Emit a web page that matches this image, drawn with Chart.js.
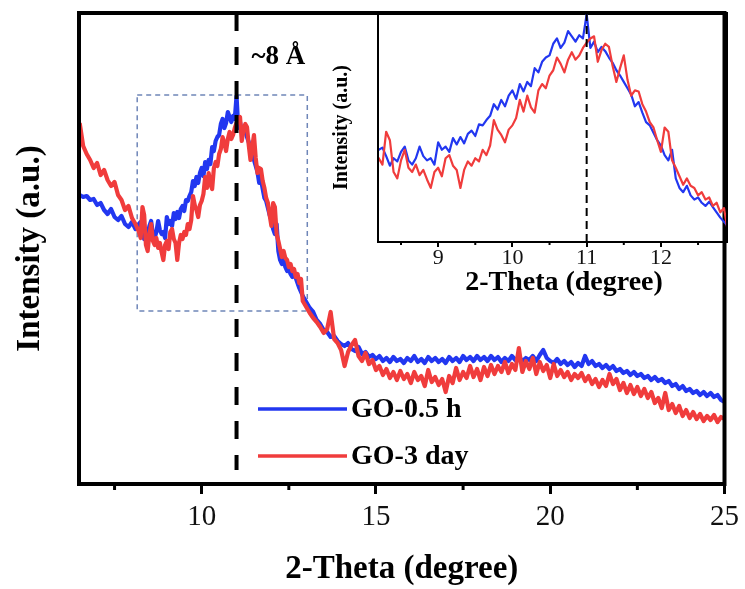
<!DOCTYPE html>
<html>
<head>
<meta charset="utf-8">
<title>XRD patterns of GO</title>
<script src="https://cdn.jsdelivr.net/npm/chart.js@4.4.1/dist/chart.umd.min.js"></script>
<style>
  html, body { margin: 0; padding: 0; background: #fff; }
  #wrap { position: relative; width: 745px; height: 589px; }
  #main { position: absolute; left: 0; top: 0; }
  #inset { position: absolute; left: 320px; top: 0; }
</style>
</head>
<body>
<div id="wrap">
  <canvas id="main" width="745" height="589"></canvas>
  <canvas id="inset" width="425" height="310"></canvas>
</div>
<script>
// ---- series ----
const seriesNames = ['GO-0.5 h', 'GO-3 day'];
const seriesColors = ['#2237f0', '#f03c3c'];
const seriesOrder = [1, 0];            // red trace drawn over the blue one

// 2θ sampling grids: 0.1° steps outside the (001) peak window, 0.05° inside it
function steps(from, to, d) {
  const out = [];
  const n = Math.round((to - from) / d);
  for (let i = 0; i <= n; i++) out.push(+(from + i * d).toFixed(2));
  return out;
}
const thetaLow = steps(6.5, 8.1, 0.1);
const thetaPeak = steps(8.2, 12.9, 0.05);
const thetaHigh = steps(13.0, 25.0, 0.1);

// intensities (a.u.)
const blueLow = [289, 287, 288, 284, 285, 279, 281, 274, 270, 275, 267, 264, 268, 260, 257, 262, 255];
const redLow  = [361, 338, 330, 324, 316, 321, 309, 314, 304, 298, 302, 289, 284, 274, 278, 266, 260];

const bluePeak = [
  260, 262, 254, 245, 252, 249, 258, 263, 250, 246,
  252, 263, 254, 250, 252, 246, 267, 260, 263, 258,
  271, 265, 272, 266, 275, 278, 273, 284, 283, 288,
  292, 303, 298, 307, 301, 311, 316, 308, 322, 315,
  324, 320, 337, 333, 343, 347, 349, 360, 365, 356,
  361, 372, 367, 362, 368, 365, 388, 356, 362, 352,
  357, 353, 347, 342, 335, 330, 324, 318, 312, 301,
  305, 295, 286, 283, 276, 269, 264, 255, 250, 260,
  233, 224, 220, 226, 217, 213, 215, 210, 207, 211,
  206, 201, 196, 192, 188
];
const redPeak = [
  252, 246, 277, 269, 239, 233, 250, 260, 243, 239,
  246, 236, 241, 232, 224, 239, 243, 235, 252, 255,
  245, 241, 224, 241, 249, 245, 252, 249, 260, 255,
  264, 288, 279, 274, 267, 279, 283, 290, 307, 296,
  311, 300, 295, 316, 322, 318, 330, 335, 347, 341,
  333, 345, 352, 345, 349, 356, 361, 365, 367, 343,
  354, 360, 357, 339, 324, 337, 349, 326, 311, 316,
  315, 303, 296, 286, 281, 269, 258, 281, 277, 250,
  243, 235, 227, 233, 226, 224, 217, 220, 213, 215,
  207, 210, 201, 205, 183
];

const blueHigh = [
  182, 176, 172, 164, 160, 154, 152, 147, 148, 143,
  140, 138, 141, 135, 133, 137, 130, 132, 127, 129,
  125, 128, 123, 126, 122, 127, 123, 125, 121, 126,
  123, 128, 122, 125, 121, 127, 123, 126, 122, 125,
  121, 127, 123, 126, 122, 128, 124, 127, 123, 128,
  124, 127, 123, 128, 124, 127, 122, 126, 123, 128,
  124, 127, 123, 126, 124, 128, 123, 129, 134, 126,
  123, 121, 125, 120, 123, 119, 122, 117, 121, 118,
  128, 120, 123, 118, 120, 116, 119, 115, 118, 113,
  115, 111, 113, 109, 112, 108, 110, 106, 108, 104,
  107, 103, 105, 101, 103, 98, 100, 95, 98, 93,
  95, 91, 93, 89, 92, 88, 91, 87, 89, 84,
  82
];
const redHigh = [
  177, 171, 166, 162, 157, 151, 155, 172, 145, 141,
  134, 118, 132, 139, 144, 128, 123, 131, 120, 124,
  114, 118, 109, 115, 106, 112, 104, 113, 105, 110,
  101, 112, 104, 108, 98, 114, 102, 107, 99, 105,
  92, 108, 101, 116, 104, 112, 106, 118, 107, 115,
  104, 117, 108, 119, 110, 118, 112, 122, 111, 120,
  114, 136, 112, 123, 115, 126, 110, 122, 113, 119,
  106, 120, 108, 114, 107, 112, 104, 110, 106, 111,
  103, 108, 100, 105, 97, 104, 98, 110, 100, 105,
  94, 101, 91, 99, 90, 97, 88, 95, 86, 92,
  81, 86, 76, 91, 74, 80, 71, 78, 68, 74,
  66, 72, 65, 70, 63, 68, 64, 69, 62, 67,
  65
];

// ---- axes ----
const mainRange = [6.48, 25];
const mainIntensityRange = [0, 471];
const majorTicks = [10, 15, 20, 25];
const minorTicks = [7.5, 12.5, 17.5, 22.5];

const insetRange = [8.19, 12.89];
const insetIntensityRange = [173, 389];
const insetMajorTicks = [9, 10, 11, 12];
const insetMinorTicks = [8.5, 9.5, 10.5, 11.5, 12.5];

// zoom window outlined on the main plot
const boxTheta = [8.15, 13.03];
const boxIntensity = [173, 389];

const peakTheta = 11;
const peakLabel = '~8 Å';

const FONT = "'Liberation Serif', 'Times New Roman', serif";

const theta = thetaLow.concat(thetaPeak, thetaHigh);
const seriesValues = [
  blueLow.concat(bluePeak, blueHigh),
  redLow.concat(redPeak, redHigh)
];

function makeDatasets(width) {
  return seriesNames.map((name, i) => ({
    label: name,
    data: theta.map((t, k) => ({ x: t, y: seriesValues[i][k] })),
    borderColor: seriesColors[i],
    backgroundColor: seriesColors[i],
    borderWidth: width,
    pointRadius: 0,
    tension: 0,
    order: seriesOrder[i],
    borderJoinStyle: 'round'
  }));
}

// ---- decorations for the main plot ----
const mainDecor = {
  id: 'mainDecor',
  beforeDatasetsDraw(chart) {
    const { ctx } = chart;
    const x = chart.scales.x, y = chart.scales.y;
    ctx.save();
    ctx.strokeStyle = '#6f86b8';
    ctx.lineWidth = 1.5;
    ctx.setLineDash([5, 4]);
    const x0 = x.getPixelForValue(boxTheta[0]);
    const x1 = x.getPixelForValue(boxTheta[1]);
    const y0 = y.getPixelForValue(boxIntensity[1]);
    const y1 = y.getPixelForValue(boxIntensity[0]);
    ctx.strokeRect(x0, y0, x1 - x0, y1 - y0);
    ctx.restore();
  },
  afterDatasetsDraw(chart) {
    const { ctx, chartArea: a } = chart;
    const x = chart.scales.x;
    ctx.save();

    // interlayer peak marker
    const px = x.getPixelForValue(peakTheta);
    ctx.strokeStyle = '#000';
    ctx.lineWidth = 4;
    ctx.setLineDash([18, 16]);
    ctx.beginPath();
    ctx.moveTo(px, a.top);
    ctx.lineTo(px, a.bottom - 14);
    ctx.stroke();
    ctx.setLineDash([]);

    ctx.fillStyle = '#000';
    ctx.font = `bold 27px ${FONT}`;
    ctx.textAlign = 'left';
    ctx.textBaseline = 'middle';
    ctx.fillText(peakLabel, px + 15, a.top + 44);

    // frame
    ctx.lineWidth = 4;
    ctx.lineJoin = 'miter';
    ctx.strokeRect(a.left, a.top, a.right - a.left, a.bottom - a.top);

    // minor ticks
    ctx.lineWidth = 3;
    minorTicks.forEach(v => {
      const tx = x.getPixelForValue(v);
      ctx.beginPath();
      ctx.moveTo(tx, a.bottom);
      ctx.lineTo(tx, a.bottom + 6);
      ctx.stroke();
    });

    // legend
    const lx = 258, ly0 = 409, gap = 47, len = 89;
    chart.data.datasets.forEach((ds, i) => {
      const ly = ly0 + i * gap;
      ctx.strokeStyle = ds.borderColor;
      ctx.lineWidth = 3.5;
      ctx.beginPath();
      ctx.moveTo(lx, ly);
      ctx.lineTo(lx + len, ly);
      ctx.stroke();
      ctx.fillStyle = '#000';
      ctx.font = `bold 28px ${FONT}`;
      ctx.textAlign = 'left';
      ctx.textBaseline = 'middle';
      ctx.fillText(ds.label, lx + len + 4, ly + 1);
    });
    ctx.restore();
  }
};

// ---- decorations for the inset ----
const insetDecor = {
  id: 'insetDecor',
  afterDatasetsDraw(chart) {
    const { ctx, chartArea: a } = chart;
    const x = chart.scales.x;
    ctx.save();
    const px = x.getPixelForValue(peakTheta);
    ctx.strokeStyle = '#000';
    ctx.lineWidth = 2;
    ctx.setLineDash([8, 5]);
    ctx.beginPath();
    ctx.moveTo(px, a.top);
    ctx.lineTo(px, a.bottom);
    ctx.stroke();
    ctx.setLineDash([]);

    ctx.strokeRect(a.left, a.top, a.right - a.left, a.bottom - a.top);

    insetMinorTicks.forEach(v => {
      const tx = x.getPixelForValue(v);
      ctx.beginPath();
      ctx.moveTo(tx, a.bottom);
      ctx.lineTo(tx, a.bottom + 3);
      ctx.stroke();
    });

    ctx.fillStyle = '#000';
    ctx.font = `bold 28px ${FONT}`;
    ctx.textAlign = 'center';
    ctx.textBaseline = 'middle';
    ctx.fillText('2-Theta (degree)', a.left + 186, a.bottom + 41);
    ctx.restore();
  }
};

new Chart(document.getElementById('main'), {
  type: 'line',
  data: { datasets: makeDatasets(4.2) },
  options: {
    responsive: false,
    animation: false,
    devicePixelRatio: 1,
    layout: { padding: { left: 0, top: 13, right: 18, bottom: 0 } },
    plugins: { legend: { display: false }, tooltip: { enabled: false } },
    scales: {
      x: {
        type: 'linear',
        min: mainRange[0],
        max: mainRange[1],
        afterFit(s) { s.height = 105; },
        afterBuildTicks(s) { s.ticks = s.ticks.filter(t => majorTicks.includes(t.value)); },
        ticks: {
          stepSize: 5, includeBounds: false, padding: 6, color: '#111',
          maxRotation: 0, autoSkip: false,
          font: { family: FONT, size: 29, lineHeight: 1.2 }
        },
        grid: { drawOnChartArea: false, drawTicks: true, tickLength: 10, lineWidth: 3, color: '#000' },
        border: { display: false },
        title: {
          display: true, text: '2-Theta (degree)', color: '#000',
          font: { family: FONT, size: 33, weight: 'bold', lineHeight: 1 },
          padding: { top: 0, bottom: 3 }
        }
      },
      y: {
        min: mainIntensityRange[0],
        max: mainIntensityRange[1],
        afterFit(s) { s.width = 79; },
        ticks: { display: false },
        grid: { display: false },
        border: { display: false },
        title: {
          display: true, text: 'Intensity (a.u.)', color: '#000',
          font: { family: FONT, size: 33, weight: 'bold', lineHeight: 1 },
          padding: { top: 14, bottom: 0 }
        }
      }
    }
  },
  plugins: [mainDecor]
});

new Chart(document.getElementById('inset'), {
  type: 'line',
  data: { datasets: makeDatasets(2.2) },
  options: {
    responsive: false,
    animation: false,
    devicePixelRatio: 1,
    layout: { padding: { left: 0, top: 13, right: 18, bottom: 0 } },
    plugins: { legend: { display: false }, tooltip: { enabled: false } },
    scales: {
      x: {
        type: 'linear',
        min: insetRange[0],
        max: insetRange[1],
        afterFit(s) { s.height = 68; },
        afterBuildTicks(s) { s.ticks = s.ticks.filter(t => insetMajorTicks.includes(t.value)); },
        ticks: {
          stepSize: 1, includeBounds: false, padding: 0, color: '#111',
          maxRotation: 0, autoSkip: false,
          font: { family: FONT, size: 22, lineHeight: 1 }
        },
        grid: { drawOnChartArea: false, drawTicks: true, tickLength: 5, lineWidth: 2, color: '#000' },
        border: { display: false },
        title: { display: false }
      },
      y: {
        min: insetIntensityRange[0],
        max: insetIntensityRange[1],
        afterFit(s) { s.width = 58; },
        ticks: { display: false },
        grid: { display: false },
        border: { display: false },
        title: {
          display: true, text: 'Intensity (a.u.)', color: '#000',
          font: { family: FONT, size: 20, weight: 'bold', lineHeight: 1 },
          padding: { top: 12, bottom: 0 }
        }
      }
    }
  },
  plugins: [insetDecor]
});
</script>
</body>
</html>
